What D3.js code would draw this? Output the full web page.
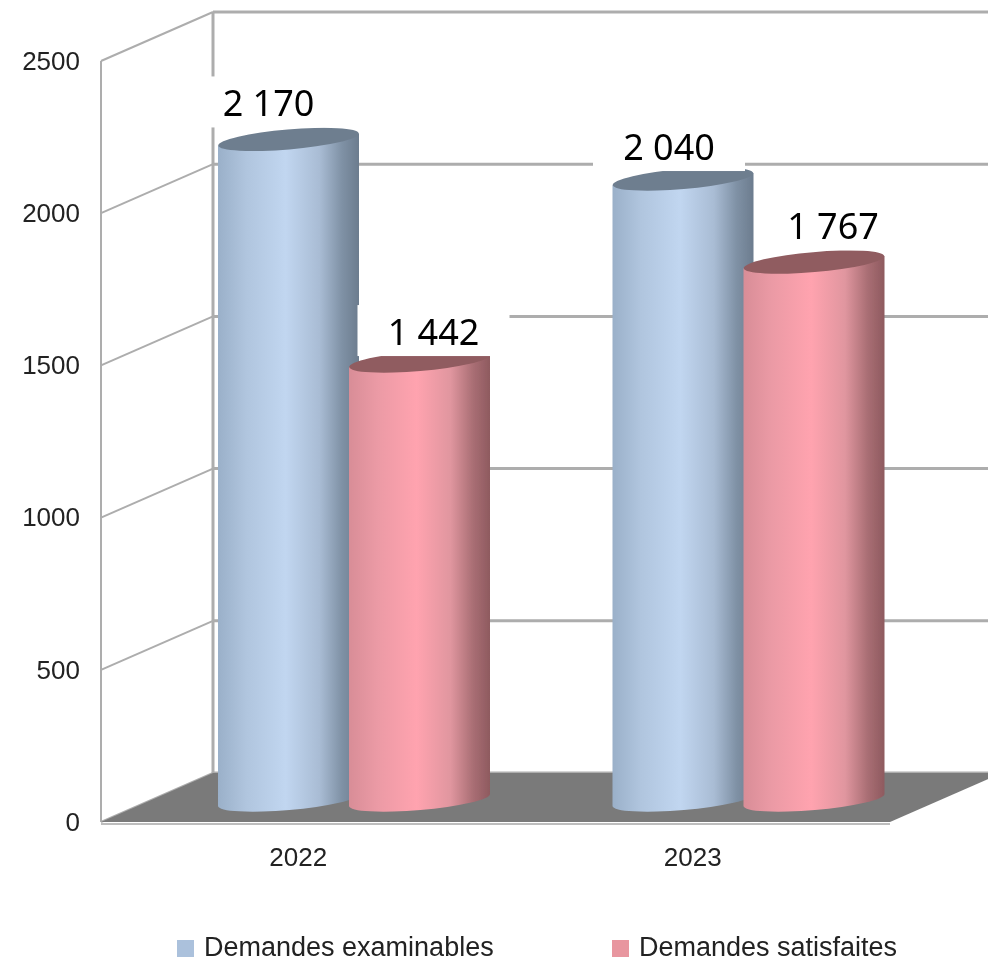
<!DOCTYPE html>
<html>
<head>
<meta charset="utf-8">
<script src="https://cdn.jsdelivr.net/npm/d3@7"></script>
<style>
  html, body { margin: 0; padding: 0; background: #fff; overflow: hidden; }
  svg { display: block; }
  .tick text, .legend-label { font-family: "Liberation Sans", sans-serif; fill: #222; }
  .value-label { font-family: "Noto Sans", sans-serif; font-size: 36px; fill: #000; }
</style>
</head>
<body>
<svg id="chart" width="988" height="958"></svg>
<script>
const years = ["2022", "2023"];
const seriesNames = ["Demandes examinables", "Demandes satisfaites"];
const examinables = [2170, 2040];
const satisfaites = [1442, 1767];
const yTicks = [0, 500, 1000, 1500, 2000, 2500];

const width = 988;
const height = 958;
const frontLeft = 101, frontRight = 890;
const depthX = 112, depthY = 49;
const barLift = 22; // cylinders stand halfway into the floor
const tilt = -4.9, ellipseRy = 10;

const svg = d3.select("#chart");

const y = d3.scaleLinear().domain([0, 2500]).range([822, 61]);
const x0 = d3.scaleBand().domain(years).range([frontLeft, frontRight]);
const x1 = d3.scaleBand().domain(seriesNames).range([117, 379]);
const colors = d3.scaleOrdinal().domain(seriesNames).range(["url(#blueBar)", "url(#redBar)"]);
const capColors = d3.scaleOrdinal().domain(seriesNames).range(["#6e7e8f", "#905c60"]);
const swatchColors = d3.scaleOrdinal().domain(seriesNames).range(["#abc1dc", "#e8969f"]);

const defs = svg.append("defs");
const gradients = {
  blueBar: [[0, "#9ab0c9"], [0.2, "#b0c5de"], [0.48, "#c1d6f0"], [0.72, "#a9bcd4"], [0.88, "#7f91a5"], [1, "#6c7c8e"]],
  redBar: [[0, "#d88d97"], [0.2, "#eb9aa5"], [0.48, "#ffa3af"], [0.72, "#e0969f"], [0.88, "#a96e74"], [1, "#8e5a5f"]]
};
Object.keys(gradients).forEach(id => {
  defs.append("linearGradient").attr("id", id)
    .selectAll("stop").data(gradients[id]).enter().append("stop")
    .attr("offset", d => d[0]).attr("stop-color", d => d[1]);
});
defs.append("filter").attr("id", "soft").append("feGaussianBlur").attr("stdDeviation", 0.45);

const chart = svg.append("g").attr("filter", "url(#soft)");

// walls
const walls = chart.append("g").attr("stroke", "#adadad").attr("fill", "none");
walls.append("line")
  .attr("x1", frontLeft).attr("x2", frontLeft)
  .attr("y1", y(2500)).attr("y2", y(0)).attr("stroke-width", 2);
walls.append("line")
  .attr("x1", frontLeft + depthX).attr("x2", frontLeft + depthX)
  .attr("y1", y(2500) - depthY).attr("y2", y(0) - depthY).attr("stroke-width", 3);
walls.selectAll(".side").data(yTicks).enter().append("line")
  .attr("class", "side")
  .attr("x1", frontLeft).attr("y1", d => y(d))
  .attr("x2", frontLeft + depthX).attr("y2", d => y(d) - depthY)
  .attr("stroke-width", 2);
walls.selectAll(".back").data(yTicks).enter().append("line")
  .attr("class", "back")
  .attr("x1", frontLeft + depthX).attr("y1", d => y(d) - depthY)
  .attr("x2", width).attr("y2", d => y(d) - depthY)
  .attr("stroke-width", 3);

// floor
chart.append("line")
  .attr("x1", frontLeft).attr("x2", frontRight)
  .attr("y1", y(0) + 2).attr("y2", y(0) + 2)
  .attr("stroke", "#bdbdbd").attr("stroke-width", 2);
chart.append("path")
  .attr("d", d3.line()([
    [frontLeft, y(0)],
    [frontLeft + depthX, y(0) - depthY],
    [frontRight + depthX, y(0) - depthY],
    [frontRight, y(0)]
  ]) + "Z")
  .attr("fill", "#7a7a7a");

// axes
chart.append("g")
  .attr("transform", `translate(${frontLeft},0)`)
  .call(d3.axisLeft(y).tickValues(yTicks).tickFormat(d3.format("d")).tickSize(0).tickPadding(21))
  .call(g => g.select(".domain").remove())
  .selectAll("text").style("font-size", "26px");

chart.append("g")
  .attr("transform", `translate(0,${y(0)})`)
  .call(d3.axisBottom(x0).tickSize(0).tickPadding(26))
  .call(g => g.select(".domain").remove())
  .selectAll("text").style("font-size", "26px");

// cylinders
const rows = years.flatMap((year, i) => [
  { year, name: seriesNames[0], value: examinables[i] },
  { year, name: seriesNames[1], value: satisfaites[i] }
]);

const barW = x1.bandwidth() + 10;
const rx = barW / 2;
const slant = Math.tan(-tilt * Math.PI / 180) * rx;
const barLeft = d => x0(d.year) + x1(d.name);
const barTop = d => y(d.value) - barLift;
const barBase = y(0) - barLift;

const bars = chart.selectAll(".bar").data(rows).enter().append("g").attr("class", "bar");

bars.append("path")
  .attr("fill", d => colors(d.name))
  .attr("d", d => {
    const l = barLeft(d), r = l + barW, t = barTop(d);
    return `M${l},${t + slant}L${r},${t - slant}L${r},${barBase - slant}` +
      `A${rx},${ellipseRy} ${tilt} 0 1 ${l},${barBase + slant}Z`;
  });

bars.append("ellipse")
  .attr("rx", rx).attr("ry", ellipseRy)
  .attr("fill", d => capColors(d.name))
  .attr("transform", d => `translate(${barLeft(d) + rx},${barTop(d)}) rotate(${tilt})`);

// value labels sit on white boxes that hide the grid behind them
const labelNudge = [[-20, -23], [14, -16], [-14, -19], [19, -23]];
const valueFormat = d3.formatLocale({ thousands: " ", grouping: [3], decimal: ",", currency: ["", ""] }).format(",d");

const labels = chart.selectAll(".value").data(rows).enter().append("g").attr("class", "value")
  .attr("transform", (d, i) => {
    const nudge = labelNudge[years.indexOf(d.year) * 2 + seriesNames.indexOf(d.name)];
    return `translate(${barLeft(d) + rx + nudge[0]},${barTop(d) + nudge[1]})`;
  });

labels.append("rect")
  .attr("x", -76).attr("y", -40).attr("width", 152).attr("height", 51)
  .attr("fill", "#fff");

labels.append("text")
  .attr("class", "value-label")
  .attr("text-anchor", "middle")
  .text(d => valueFormat(d.value));

// legend
const legendX = d3.scaleOrdinal().domain(seriesNames).range([177, 612]);
const legendItems = chart.selectAll(".legend-item").data(seriesNames).enter().append("g")
  .attr("class", "legend-item")
  .attr("transform", d => `translate(${legendX(d)},940)`);

legendItems.append("rect")
  .attr("width", 17).attr("height", 17)
  .attr("fill", d => swatchColors(d));

legendItems.append("text")
  .attr("class", "legend-label")
  .attr("x", 27).attr("y", 16)
  .style("font-size", "27px")
  .text(d => d);
</script>
</body>
</html>
